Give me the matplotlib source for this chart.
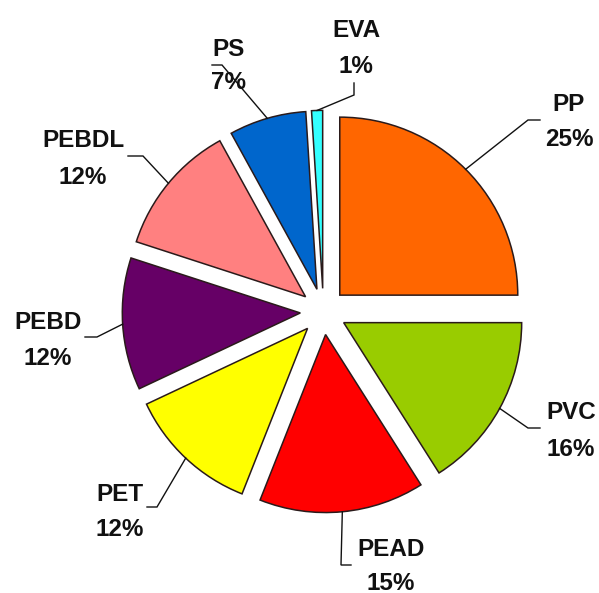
import numpy as np
import matplotlib
matplotlib.use("Agg")
import matplotlib.pyplot as plt

# ---- data ----
labels = ["PP", "PVC", "PEAD", "PET", "PEBD", "PEBDL", "PS", "EVA"]
values = [25, 16, 15, 12, 12, 12, 7, 1]
colors = ["#FF6600", "#99CC00", "#FF0000", "#FFFF00", "#660066", "#FF8080", "#0066CC", "#33FFFF"]

# ---- layout (pixel space, y downward) ----
W, H = 599, 593
center_px = (323.4, 311.5)
radius_px = 178
explode_frac = 0.13
# label centers: (name x, name y, pct y)
label_pos = {
    "PP": (569, 102, 137),
    "PVC": (571, 410, 447),
    "PEAD": (391, 547, 581),
    "PET": (120, 492, 527),
    "PEBD": (48, 320, 356),
    "PEBDL": (83, 138, 175),
    "PS": (229, 47, 80),
    "EVA": (356, 28, 64),
}
# leader elbows (after arc point)
leader_pts = {
    "PP": [(528, 120), (540, 120)],
    "PVC": [(528, 428), (540, 428)],
    "PEAD": [(341, 565), (351, 565)],
    "PET": [(157, 507), (147, 507)],
    "PEBD": [(97, 337), (85, 337)],
    "PEBDL": [(143, 156), (128, 156)],
    "PS": [(222, 65), (212, 65)],
    "EVA": [(354, 95), (354, 83)],
}

fig = plt.figure(figsize=(W / 100, H / 100), dpi=100)
ax = fig.add_axes([0, 0, 1, 1])

cx, cy = center_px[0], -center_px[1]
wedges, _ = ax.pie(values, colors=colors, startangle=90, counterclock=False,
                   explode=[explode_frac * radius_px] * len(values), radius=radius_px,
                   center=(cx, cy), frame=True,
                   wedgeprops=dict(edgecolor="#2a1a1a", linewidth=1.1))
ax.set_xlim(0, W)
ax.set_ylim(-H, 0)
ax.set_aspect("equal")
ax.axis("off")

fs_pt = 17.5
fs_px = fs_pt * 100 / 72
base_off = 0.36 * fs_px

for w, lab, v in zip(wedges, labels, values):
    ang = np.deg2rad((w.theta1 + w.theta2) / 2)
    vx, vy = w.center
    sx = vx + w.r * np.cos(ang)
    sy = vy + w.r * np.sin(ang)
    pts = [(sx, sy)] + [(px, -py) for px, py in leader_pts[lab]]
    ax.plot([p[0] for p in pts], [p[1] for p in pts], color="#111111", lw=1.0,
            solid_joinstyle="miter")
    x, ny, py = label_pos[lab]
    ax.text(x, -(ny + base_off), lab, ha="center", va="baseline",
            fontsize=fs_pt, fontweight="bold", family="Liberation Sans", color="#111111")
    ax.text(x, -(py + base_off), f"{v}%", ha="center", va="baseline",
            fontsize=fs_pt, fontweight="bold", family="Liberation Sans", color="#111111")

fig.savefig("out.png", dpi=100, facecolor="white")
